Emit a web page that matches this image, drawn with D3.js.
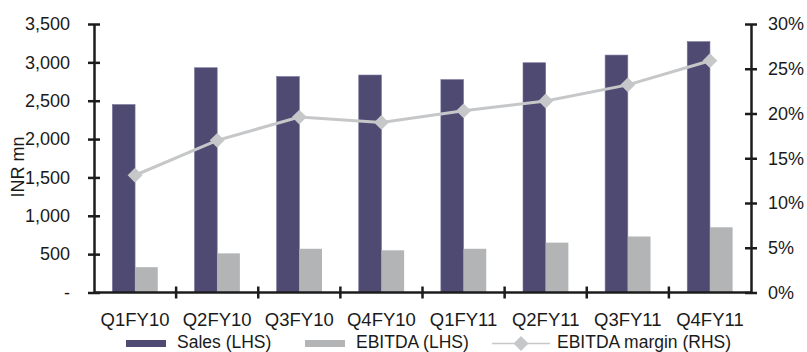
<!DOCTYPE html>
<html>
<head>
<meta charset="utf-8">
<script src="https://cdn.jsdelivr.net/npm/d3@7/dist/d3.min.js"></script>
<style>
  html, body { margin: 0; padding: 0; background: #fff; }
  svg { display: block; font-family: "Liberation Sans", Arial, sans-serif; }
</style>
</head>
<body>
<svg id="chart" width="807" height="352"></svg>
<script>
// Quarterly figures
const categories = ["Q1FY10", "Q2FY10", "Q3FY10", "Q4FY10", "Q1FY11", "Q2FY11", "Q3FY11", "Q4FY11"];
const sales = [2450, 2930, 2815, 2835, 2775, 2995, 3095, 3270];
const ebitda = [330, 510, 570, 550, 570, 650, 730, 850];
const margin = [13.1, 17.0, 19.6, 19.0, 20.3, 21.4, 23.2, 25.9];
const leftTicks = [0, 500, 1000, 1500, 2000, 2500, 3000, 3500];
const rightTicks = [0, 5, 10, 15, 20, 25, 30];

const colSales = "#4f4a72";
const colEbitda = "#b3b4b6";
const colMargin = "#c6c7c9";
const colAxis = "#1c1c1c";

const svg = d3.select("#chart");
const plotLeft = 94, plotRight = 751, plotTop = 24, plotBottom = 292.5;

const x = d3.scaleBand().domain(categories).range([plotLeft, plotRight]).padding(0);
const xs = d3.scaleBand().domain(["sales", "ebitda"]).range([0, x.bandwidth()])
  .paddingInner(0).paddingOuter(0.81);
const yL = d3.scaleLinear().domain([0, 3500]).range([plotBottom, plotTop]);
const yR = d3.scaleLinear().domain([0, 30]).range([plotBottom, plotTop]);

// Bars
const g = svg.append("g");
g.selectAll("rect.sales").data(categories).join("rect")
  .attr("class", "sales")
  .attr("x", (d) => x(d) + xs("sales"))
  .attr("y", (d, i) => yL(sales[i]))
  .attr("width", xs.bandwidth())
  .attr("height", (d, i) => yL(0) - yL(sales[i]))
  .attr("fill", colSales)
  .attr("stroke", "#77739a").attr("stroke-width", 0.6);
g.selectAll("rect.ebitda").data(categories).join("rect")
  .attr("class", "ebitda")
  .attr("x", (d) => x(d) + xs("ebitda"))
  .attr("y", (d, i) => yL(ebitda[i]))
  .attr("width", xs.bandwidth())
  .attr("height", (d, i) => yL(0) - yL(ebitda[i]))
  .attr("fill", colEbitda);

// Margin line with diamond markers
const cx = (d) => x(d) + x.bandwidth() / 2;
const line = d3.line().x((d, i) => cx(categories[i])).y((d) => yR(d));
svg.append("path").datum(margin)
  .attr("d", line).attr("fill", "none")
  .attr("stroke", colMargin).attr("stroke-width", 3);
const diamond = d3.symbol().type(d3.symbolSquare).size(110);
svg.selectAll("path.pt").data(margin).join("path")
  .attr("class", "pt")
  .attr("d", diamond)
  .attr("transform", (d, i) => `translate(${cx(categories[i])},${yR(d)}) rotate(45)`)
  .attr("fill", colMargin);

// Axes
const axisStyle = (sel) => {
  sel.select(".domain").attr("stroke", colAxis).attr("stroke-width", 2.5);
  sel.selectAll(".tick line").attr("stroke", colAxis).attr("stroke-width", 2.5);
  sel.selectAll(".tick text").attr("fill", "#1a1a1a").attr("font-size", 18)
    .attr("font-family", "'Liberation Sans', Arial, sans-serif");
};

const axL = svg.append("g").attr("transform", `translate(${plotLeft},0)`)
  .call(d3.axisLeft(yL).tickValues(leftTicks).tickSize(6).tickSizeOuter(0)
    .tickFormat((d) => d === 0 ? "-" : d3.format(",")(d)).tickPadding(18));
axisStyle(axL);
axL.selectAll(".tick line").attr("x1", -6).attr("x2", 6);
axL.selectAll(".tick text").attr("x", -24);

const axR = svg.append("g").attr("transform", `translate(${plotRight},0)`)
  .call(d3.axisRight(yR).tickValues(rightTicks).tickSize(6).tickSizeOuter(0)
    .tickFormat((d) => d + "%").tickPadding(11));
axisStyle(axR);
axR.selectAll(".tick line").attr("x1", -6).attr("x2", 6);
axR.selectAll(".tick text").attr("x", 17);

// Category axis: ticks on the band boundaries, labels centred in each band
const axB = svg.append("g").attr("transform", `translate(0,${plotBottom})`);
axB.append("line").attr("x1", plotLeft).attr("x2", plotRight).attr("y1", 0).attr("y2", 0)
  .attr("stroke", colAxis).attr("stroke-width", 2.5);
axB.selectAll("line.tk").data(categories.slice(1)).join("line")
  .attr("class", "tk")
  .attr("x1", (d) => x(d)).attr("x2", (d) => x(d))
  .attr("y1", -6).attr("y2", 6)
  .attr("stroke", colAxis).attr("stroke-width", 2.5);
axB.selectAll("text").data(categories).join("text")
  .attr("x", (d) => cx(d)).attr("y", 33)
  .attr("text-anchor", "middle").attr("font-size", 18.5).attr("fill", "#1a1a1a")
  .text((d) => d);

// Y axis title
svg.append("text")
  .attr("transform", "translate(24,167) rotate(-90)")
  .attr("text-anchor", "middle").attr("font-size", 18).attr("fill", "#1a1a1a")
  .text("INR mn");

// Legend
const lg = svg.append("g").attr("font-size", 17.5).attr("fill", "#1a1a1a");
lg.append("rect").attr("x", 126).attr("y", 340).attr("width", 40).attr("height", 7).attr("fill", colSales);
lg.append("text").attr("x", 177).attr("y", 347.5).text("Sales (LHS)");
lg.append("rect").attr("x", 305).attr("y", 340).attr("width", 40).attr("height", 7).attr("fill", colEbitda);
lg.append("text").attr("x", 356).attr("y", 347.5).text("EBITDA (LHS)");
lg.append("line").attr("x1", 492).attr("x2", 550).attr("y1", 343.5).attr("y2", 343.5)
  .attr("stroke", colMargin).attr("stroke-width", 1.5);
lg.append("path").attr("d", diamond)
  .attr("transform", "translate(521,343.5) rotate(45)").attr("fill", colMargin);
lg.append("text").attr("x", 557).attr("y", 347.5).text("EBITDA margin (RHS)");
</script>
</body>
</html>
